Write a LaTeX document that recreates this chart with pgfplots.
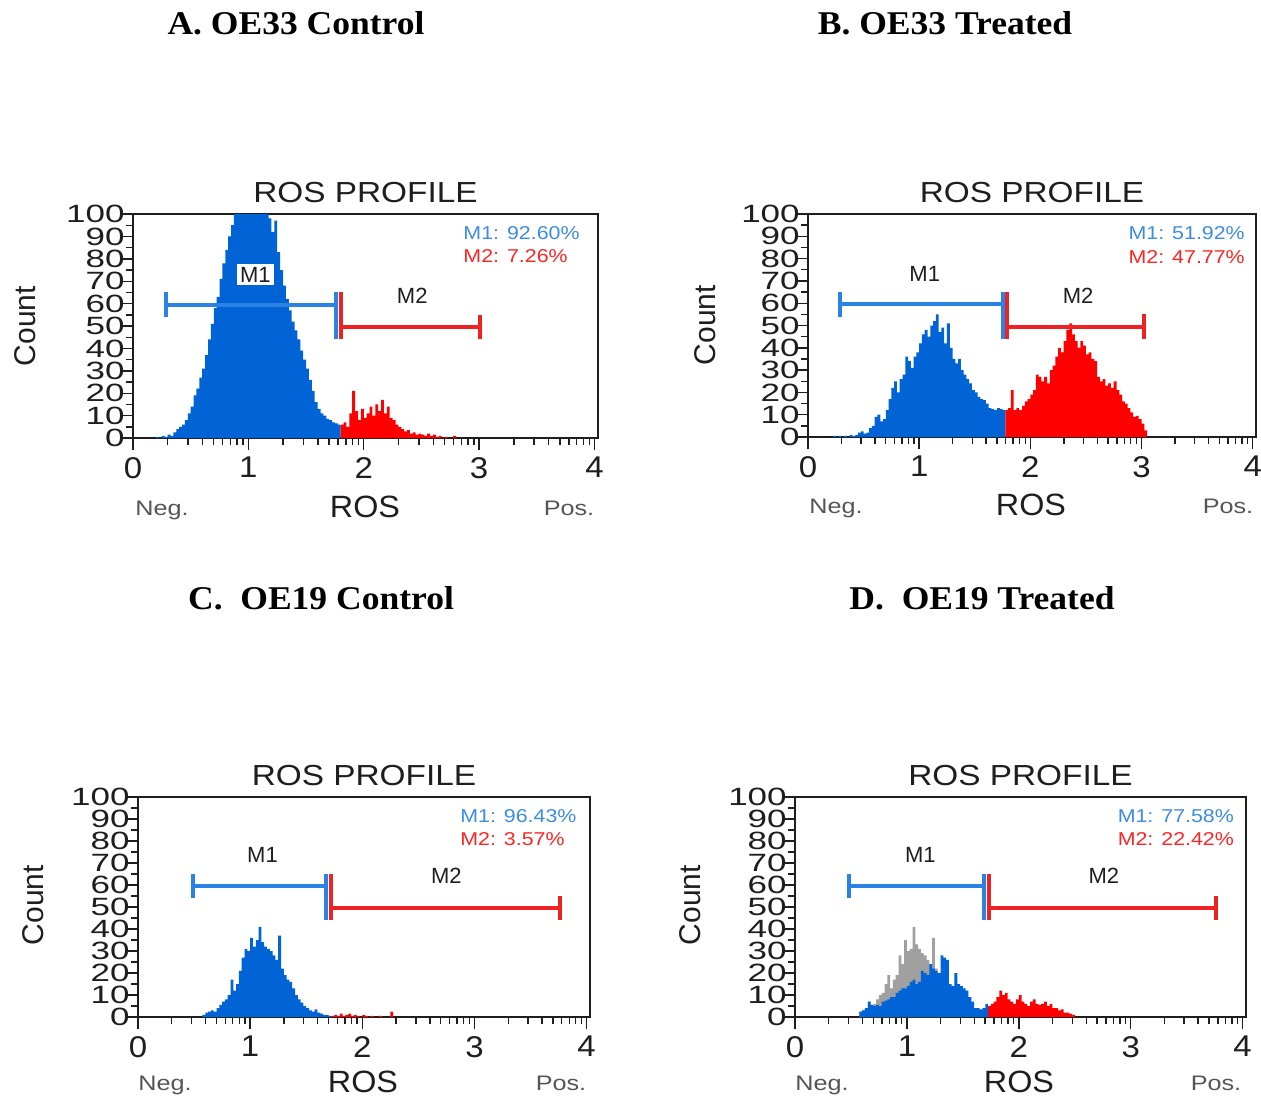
\documentclass[border=0pt]{standalone}
\usepackage{fontspec}
\setmainfont{Liberation Sans}
\newfontfamily\tfont{Liberation Serif}
\usepackage{pgfplots}
\pgfplotsset{compat=1.18}
\definecolor{hblue}{HTML}{0064D7}
\definecolor{hred}{HTML}{FF0000}
\definecolor{hgray}{HTML}{A0A0A0}
\definecolor{mblue}{HTML}{2A82E4}
\definecolor{mred}{HTML}{EE2222}
\definecolor{lblue}{HTML}{3C8CE6}
\definecolor{lred}{HTML}{FF2424}
\definecolor{txt}{HTML}{1E1E1E}
\definecolor{negc}{HTML}{555555}

\tikzset{
  mlab/.style={font=\fontsize{11}{11}\selectfont, text=txt, inner sep=1.5pt},
  leg/.style={font=\fontsize{9.3}{9.3}\selectfont, xscale=1.15, anchor=west, inner sep=0pt},
}
\pgfplotsset{rosax/.style={
  scale only axis, anchor=south west,
  xmin=0, xmax=4.03, ymin=0, ymax=100,
  tick pos=left, tick align=outside,
  xtick={0,1,2,3,4},
  minor xtick={0.301,0.477,0.602,0.699,0.778,0.845,0.903,0.954,
               1.301,1.477,1.602,1.699,1.778,1.845,1.903,1.954,
               2.301,2.477,2.602,2.699,2.778,2.845,2.903,2.954,
               3.301,3.477,3.602,3.699,3.778,3.845,3.903,3.954},
  ytick={0,10,...,100}, minor ytick={5,15,...,95},
  major tick length=6pt, minor tick length=3.6pt,
  every tick/.style={txt, line width=0.7pt},
  axis line style={txt, line width=1pt},
  /pgf/number format/assume math mode=true,
  xticklabel style={font=\fontsize{15}{15}\selectfont, xscale=1.1, text=txt},
  yticklabel style={font=\fontsize{12.5}{12.5}\selectfont, xscale=1.4, text=txt, inner sep=0.5pt, xshift=2pt},
  title={ROS PROFILE},
  title style={font=\fontsize{14.5}{15}\selectfont, xscale=1.15, text=txt,
               at={(rel axis cs:0.5,1)}, anchor=base, yshift=0pt},
  clip mode=individual,
  hist/.style={draw=none, const plot},
  gate/.style={line width=2pt, no marks},
}}

\begin{document}
\begin{tikzpicture}
\useasboundingbox (0,0) rectangle (630.5pt,-548.5pt);

% ---------------- Titles ----------------
\begin{scope}[every node/.style={font=\tfont\bfseries\fontsize{16.6}{18}\selectfont, xscale=1.07, anchor=base, text=black}]
\node at (148pt,-17.5pt) {A. OE33 Control};
\node at (472.5pt,-17.5pt) {B. OE33 Treated};
\node at (160.5pt,-304.5pt) {C.\ \ OE19 Control};
\node at (491pt,-304.5pt) {D.\ \ OE19 Treated};
\end{scope}

% ---------------- axis labels ----------------
\begin{scope}[every node/.style={font=\fontsize{15}{15}\selectfont, text=txt}]
\node[rotate=90] at (12.5pt,-163pt) {Count};
\node[rotate=90] at (352.5pt,-162.5pt) {Count};
\node[rotate=90] at (16.5pt,-452.5pt) {Count};
\node[rotate=90] at (345pt,-452.5pt) {Count};
\node[font=\fontsize{15.4}{16}\selectfont, xscale=1.05] at (182.5pt,-253.5pt) {ROS};
\node[font=\fontsize{15.4}{16}\selectfont, xscale=1.05] at (515.5pt,-252.5pt) {ROS};
\node[font=\fontsize{15.4}{16}\selectfont, xscale=1.05] at (181.5pt,-541pt) {ROS};
\node[font=\fontsize{15.4}{16}\selectfont, xscale=1.05] at (509.5pt,-541pt) {ROS};
\end{scope}
\begin{scope}[every node/.style={font=\fontsize{10.5}{11}\selectfont, xscale=1.2, text=negc, anchor=base}]
\node at (81pt,-257.5pt) {Neg.};
\node at (284.5pt,-257.5pt) {Pos.};
\node at (418pt,-256.5pt) {Neg.};
\node at (614pt,-256.5pt) {Pos.};
\node at (82.5pt,-545pt) {Neg.};
\node at (280.5pt,-545pt) {Pos.};
\node at (411pt,-545pt) {Neg.};
\node at (608pt,-545pt) {Pos.};
\end{scope}

% ================= Panel A =================
\begin{axis}[rosax, at={(66.5pt,-219pt)}, width=232.5pt, height=112pt]
\addplot[hist, fill=hblue] coordinates {
(0.200,0.5)(0.225,0)(0.250,1)(0.275,0.5)(0.300,1.5)(0.325,1)(0.350,2.5)(0.375,4)
(0.400,5)(0.425,6)(0.450,8)(0.475,11)(0.500,14)(0.525,19)(0.550,22)(0.575,27)
(0.600,31)(0.625,37)(0.650,44)(0.675,51)(0.700,58)(0.725,63)(0.750,71)(0.775,78)
(0.800,84)(0.825,90)(0.850,95)(0.875,102)(0.900,110)(0.925,115)(0.950,118)(0.975,120)
(1.000,121)(1.025,119)(1.050,117)(1.075,114)(1.100,110)(1.125,106)(1.150,103)(1.175,98)
(1.200,92)(1.225,97)(1.250,83)(1.275,75)(1.300,68)(1.325,62)(1.350,57)(1.375,52)
(1.400,48)(1.425,44)(1.450,39)(1.475,35)(1.500,31)(1.525,26)(1.550,21)(1.575,16)
(1.600,13)(1.625,11)(1.650,10)(1.675,8.5)(1.700,8)(1.725,7)(1.750,6.5)(1.775,6)(1.800,6)
} \closedcycle;
\addplot[hist, fill=hred] coordinates {
(1.800,6)(1.825,7)(1.850,5)(1.875,11)(1.900,21)(1.925,12)(1.950,8)(1.975,13)
(2.000,9)(2.025,11)(2.050,14)(2.075,10)(2.100,15)(2.125,12)(2.150,17)(2.175,11)
(2.200,14)(2.225,9)(2.250,8)(2.275,6)(2.300,5)(2.325,4)(2.350,3)(2.375,3.5)
(2.400,2)(2.425,2.5)(2.450,1.5)(2.475,2)(2.500,1.5)(2.525,1)(2.550,2)(2.575,1)
(2.600,1.5)(2.625,0.5)(2.650,1)(2.675,0)(2.700,0.5)(2.725,0)(2.750,0)(2.775,1)(2.800,0)
} \closedcycle;
\addplot[gate, mblue] coordinates {(0.29,59.5)(1.76,59.5)};
\addplot[gate, mblue] coordinates {(0.29,54)(0.29,65)};
\addplot[gate, mblue] coordinates {(1.76,44)(1.76,65)};
\addplot[gate, mred] coordinates {(1.80,49.5)(3.01,49.5)};
\addplot[gate, mred] coordinates {(1.80,44)(1.80,65)};
\addplot[gate, mred] coordinates {(3.01,44)(3.01,55)};
\node[mlab, fill=white] at (axis cs:1.06,73) {M1};
\node[mlab] at (axis cs:2.42,63.5) {M2};
\node[leg, text=lblue] at (axis cs:2.86,91.5) {M1: 92.60\%};
\node[leg, text=lred] at (axis cs:2.86,81) {M2: 7.26\%};
\end{axis}

% ================= Panel B =================
\begin{axis}[rosax, at={(404pt,-218.5pt)}, width=224pt, height=111.5pt]
\addplot[hist, fill=hblue] coordinates {
(0.200,0)(0.225,0.5)(0.250,0)(0.275,0.5)(0.300,0)(0.325,0.5)(0.350,0)(0.375,1)
(0.400,0.5)(0.425,1)(0.450,2)(0.475,2.5)(0.500,1.5)(0.525,2)(0.550,4)(0.575,5)
(0.600,9)(0.625,10)(0.650,7)(0.675,8)(0.700,12)(0.725,17)(0.750,22)(0.775,25)
(0.800,20)(0.825,26)(0.850,28)(0.875,36)(0.900,34)(0.925,31)(0.950,36)(0.975,38)
(1.000,42)(1.025,46)(1.050,48)(1.075,45)(1.100,50)(1.125,52)(1.150,55)(1.175,47)
(1.200,49)(1.225,42)(1.250,51)(1.275,40)(1.300,35)(1.325,33)(1.350,35)(1.375,30)
(1.400,28)(1.425,26)(1.450,24)(1.475,21)(1.500,20)(1.525,18)(1.550,17)(1.575,16.5)
(1.600,15)(1.625,13)(1.650,12.5)(1.675,12)(1.700,13)(1.725,12.5)(1.750,12)(1.775,12)
} \closedcycle;
\addplot[hist, fill=hred] coordinates {
(1.775,12)(1.800,13)(1.825,21)(1.850,12)(1.875,13)(1.900,12)(1.925,14)(1.950,16)
(1.975,17)(2.000,19)(2.025,21)(2.050,28)(2.075,27)(2.100,25)(2.125,27)(2.150,24)
(2.175,30)(2.200,32)(2.225,36)(2.250,40)(2.275,38)(2.300,43)(2.325,48)(2.350,51)
(2.375,46)(2.400,43)(2.425,40)(2.450,43)(2.475,41)(2.500,37)(2.525,38)(2.550,35)
(2.575,34)(2.600,27)(2.625,25)(2.650,26)(2.675,23)(2.700,24)(2.725,22)(2.750,25)
(2.775,21)(2.800,19)(2.825,16)(2.850,15)(2.875,13)(2.900,11)(2.925,9)(2.950,9.5)
(2.975,8)(3.000,6)(3.025,3)(3.050,0)
} \closedcycle;
\addplot[gate, mblue] coordinates {(0.29,59.5)(1.75,59.5)};
\addplot[gate, mblue] coordinates {(0.29,54)(0.29,65)};
\addplot[gate, mblue] coordinates {(1.75,44)(1.75,65)};
\addplot[gate, mred] coordinates {(1.79,49.5)(3.02,49.5)};
\addplot[gate, mred] coordinates {(1.79,44)(1.79,65)};
\addplot[gate, mred] coordinates {(3.02,44)(3.02,55)};
\node[mlab] at (axis cs:1.05,73) {M1};
\node[mlab] at (axis cs:2.43,63.5) {M2};
\node[leg, text=lblue] at (axis cs:2.88,91.5) {M1: 51.92\%};
\node[leg, text=lred] at (axis cs:2.88,80.5) {M2: 47.77\%};
\end{axis}

% ================= Panel C =================
\begin{axis}[rosax, at={(69pt,-508.5pt)}, width=226pt, height=110pt]
\addplot[hist, fill=hblue] coordinates {
(0.575,1)(0.600,2)(0.625,2.5)(0.650,3)(0.675,2.5)(0.700,4)(0.725,5.5)(0.750,7)
(0.775,8)(0.800,10)(0.825,17)(0.850,12)(0.875,15)(0.900,21)(0.925,27)(0.950,31)
(0.975,30)(1.000,36)(1.025,32)(1.050,35)(1.075,41)(1.100,34)(1.125,32)(1.150,31)
(1.175,30)(1.200,28)(1.225,26)(1.250,37)(1.275,22)(1.300,19)(1.325,17)(1.350,16)
(1.375,13)(1.400,10)(1.425,8)(1.450,6.5)(1.475,5)(1.500,4)(1.525,3)(1.550,2.5)
(1.575,3.5)(1.600,2)(1.625,1.5)(1.650,1)(1.675,1)(1.700,0.5)(1.725,0)
} \closedcycle;
\addplot[hist, fill=hred] coordinates {
(1.725,0.5)(1.750,1)(1.775,0.5)(1.800,1.5)(1.825,0.5)(1.850,1)(1.875,1.5)(1.900,0.5)
(1.925,1)(1.950,0.5)(1.975,0)(2.000,1)(2.025,0.5)(2.050,0)(2.075,0.5)(2.100,0)
(2.125,0)(2.150,0.5)(2.175,0)(2.200,0)(2.225,0)(2.250,2.5)(2.275,0)
} \closedcycle;
\addplot[gate, mblue] coordinates {(0.49,59.5)(1.68,59.5)};
\addplot[gate, mblue] coordinates {(0.49,54)(0.49,65)};
\addplot[gate, mblue] coordinates {(1.68,44)(1.68,65)};
\addplot[gate, mred] coordinates {(1.72,49.5)(3.76,49.5)};
\addplot[gate, mred] coordinates {(1.72,44)(1.72,65)};
\addplot[gate, mred] coordinates {(3.76,44)(3.76,55)};
\node[mlab] at (axis cs:1.11,73.5) {M1};
\node[mlab] at (axis cs:2.75,64) {M2};
\node[leg, text=lblue] at (axis cs:2.87,91.5) {M1: 96.43\%};
\node[leg, text=lred] at (axis cs:2.87,81) {M2: 3.57\%};
\end{axis}

% ================= Panel D =================
\begin{axis}[rosax, at={(397.5pt,-508.5pt)}, width=225.5pt, height=110pt]
\addplot[hist, fill=hgray] coordinates {
(0.575,2.5)(0.600,3)(0.625,4)(0.650,7)(0.675,5.5)(0.700,6)(0.725,8)(0.750,10)
(0.775,11)(0.800,15)(0.825,19)(0.850,13)(0.875,17)(0.900,19)(0.925,28)(0.950,24)
(0.975,35)(1.000,30)(1.025,31)(1.050,41)(1.075,33)(1.100,31)(1.125,29)(1.150,28)
(1.175,26)(1.200,24)(1.225,36)(1.250,22)(1.275,20)(1.300,0)
} \closedcycle;
\addplot[hist, fill=hblue] coordinates {
(0.575,2.5)(0.600,3)(0.625,4)(0.650,7)(0.675,5.5)(0.700,5)(0.725,5.5)(0.750,5)
(0.775,7)(0.800,7.5)(0.825,8)(0.850,9)(0.875,9)(0.900,11)(0.925,12)(0.950,13)
(0.975,13)(1.000,14)(1.025,16)(1.050,17)(1.075,15)(1.100,16)(1.125,21)(1.150,20)
(1.175,19)(1.200,24)(1.225,22)(1.250,21)(1.275,20)(1.300,28)(1.325,27)(1.350,26)
(1.375,15)(1.400,14)(1.425,20)(1.450,15)(1.475,14)(1.500,13)(1.525,12)(1.550,9)
(1.575,7)(1.600,4)(1.625,4)(1.650,3.5)(1.675,4)(1.700,6)(1.725,5)
} \closedcycle;
\addplot[hist, fill=hred] coordinates {
(1.725,5)(1.750,6)(1.775,7)(1.800,9)(1.825,12)(1.850,10)(1.875,11)(1.900,8)
(1.925,7)(1.950,6)(1.975,8)(2.000,10)(2.025,7)(2.050,6)(2.075,5)(2.100,7)
(2.125,8)(2.150,6)(2.175,5.5)(2.200,6)(2.225,7)(2.250,5)(2.275,6)(2.300,4)
(2.325,4)(2.350,3)(2.375,3.5)(2.400,2)(2.425,2)(2.450,1.5)(2.475,1)(2.500,0)
} \closedcycle;
\addplot[gate, mblue] coordinates {(0.48,59.5)(1.69,59.5)};
\addplot[gate, mblue] coordinates {(0.48,54)(0.48,65)};
\addplot[gate, mblue] coordinates {(1.69,44)(1.69,65)};
\addplot[gate, mred] coordinates {(1.73,49.5)(3.76,49.5)};
\addplot[gate, mred] coordinates {(1.73,44)(1.73,65)};
\addplot[gate, mred] coordinates {(3.76,44)(3.76,55)};
\node[mlab] at (axis cs:1.12,73.5) {M1};
\node[mlab] at (axis cs:2.76,64) {M2};
\node[leg, text=lblue] at (axis cs:2.88,91.5) {M1: 77.58\%};
\node[leg, text=lred] at (axis cs:2.88,81) {M2: 22.42\%};
\end{axis}
\end{tikzpicture}
\end{document}
